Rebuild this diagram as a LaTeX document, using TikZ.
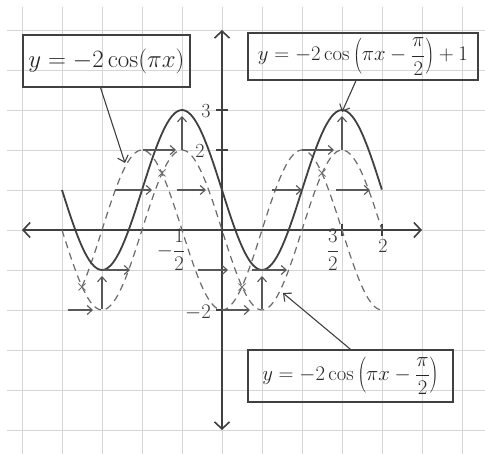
\documentclass[tikz,border=0pt]{standalone}
\usetikzlibrary{arrows.meta,calc}
\begin{document}
\begin{tikzpicture}[x=1pt,y=-1pt,
  gridline/.style={draw=black!16, line width=0.8pt},
  axisline/.style={draw=black!75, line width=1.6pt, {Straight Barb[length=7pt,width=15pt]}-{Straight Barb[length=7pt,width=15pt]}},
  tickmark/.style={draw=black!75, line width=1.2pt},
  solidcurve/.style={draw=black!75, line width=1.8pt},
  dashcurve/.style={draw=black!58, line width=1.2pt, dash pattern=on 7pt off 5pt},
  shiftarrow/.style={draw=black!65, line width=1.1pt, -{Straight Barb[length=5pt,width=9pt]}},
  labelbox/.style={draw=black!75, line width=1.3pt, inner sep=0pt, text=black!85},
  pointer/.style={draw=black!75, line width=1.1pt, -{Straight Barb[length=6pt,width=11pt]}},
  ticklabel/.style={font=\fontsize{20}{22}\selectfont, text=black!80, inner sep=1pt},
  xmark/.style={draw=black!55, line width=0.9pt},
]
\useasboundingbox (0,0) rectangle (485,454);
\fill[white] (0,0) rectangle (485,454);
% grid
\foreach \gx in {22,62,...,462} \draw[gridline] (\gx,7) -- (\gx,454);
\foreach \gy in {30,70,...,430} \draw[gridline] (7,\gy) -- (485,\gy);
% axes
\draw[axisline] (22,230) -- (422,230);
\draw[axisline] (222,430) -- (222,30);
% ticks
\foreach \ty in {110,150,310} \draw[tickmark] (216,\ty) -- (228,\ty);
\foreach \tx in {342,382} \draw[tickmark] (\tx,224) -- (\tx,236);
% tick labels
\node[ticklabel] (l3) at (206,111) {3};
\node[ticklabel] (l2) at (200,151) {2};
\node[ticklabel] (lm2) at (198,313) {$-2$};
\node[ticklabel] (lmh) at (171,250) {$\displaystyle -\frac{1}{2}$};
\node[ticklabel] (l32) at (333,250) {$\displaystyle \frac{3}{2}$};
\node[ticklabel] (lx2) at (383,246) {2};
% curves
\draw[dashcurve] plot[domain=-1.75:2,samples=120,smooth] ({222+80*\x},{230+80*cos(180*\x)});
\draw[dashcurve] plot[domain=-2:2,samples=120,smooth] ({222+80*\x},{230+80*sin(180*\x)});
\draw[solidcurve] plot[domain=-2:2,samples=120,smooth] ({222+80*\x},{190+80*sin(180*\x)});
% x marks
\foreach \mx/\my in {82/287,162/173,242/287,322/173}
  \draw[xmark] (\mx-3.5,\my-3.5) -- (\mx+3.5,\my+3.5) (\mx+3.5,\my-3.5) -- (\mx-3.5,\my+3.5);
% horizontal shift arrows
\draw[shiftarrow] (143,150) -- (176,150);
\draw[shiftarrow] (302,150) -- (334,150);
\draw[shiftarrow] (115,190) -- (152,190);
\draw[shiftarrow] (177,190) -- (206,190);
\draw[shiftarrow] (272,190) -- (302,190);
\draw[shiftarrow] (336,190) -- (370,190);
\draw[shiftarrow] (102,270) -- (130,270);
\draw[shiftarrow] (198,270) -- (228,270);
\draw[shiftarrow] (252,270) -- (287,270);
\draw[shiftarrow] (68,310) -- (93,310);
\draw[shiftarrow] (222,310) -- (250,310);
% vertical shift arrows
\draw[shiftarrow] (182,150) -- (182,116);
\draw[shiftarrow] (102,309) -- (102,276);
\draw[shiftarrow] (262,309) -- (262,276);
\draw[shiftarrow] (342,150) -- (342,116);
% label boxes
\node[labelbox, font=\fontsize{23.5}{26}\selectfont, minimum width=167pt, minimum height=52pt] (b1) at (106.5,61) {$y=-2\cos(\pi x)$};
\node[labelbox, font=\fontsize{21.5}{24}\selectfont, minimum width=230pt, minimum height=47pt] (b2) at (363,56.5) {$\displaystyle y=-2\cos\left(\pi x-\frac{\pi}{2}\right)+1$};
\node[labelbox, font=\fontsize{21.5}{24}\selectfont, minimum width=205pt, minimum height=52pt] (b3) at (350.5,376) {$\displaystyle y=-2\cos\left(\pi x-\frac{\pi}{2}\right)$};
% pointers
\coordinate (t1) at (125,163);
\coordinate (t2) at (342,112);
\coordinate (t3) at (283,293);
\draw[pointer] ($(b1.south)+(-6,0)$) -- (t1);
\draw[pointer] ($(b2.south)+(-7,0)$) -- (t2);
\draw[pointer] (b3.north) -- (t3);
\end{tikzpicture}
\end{document}
